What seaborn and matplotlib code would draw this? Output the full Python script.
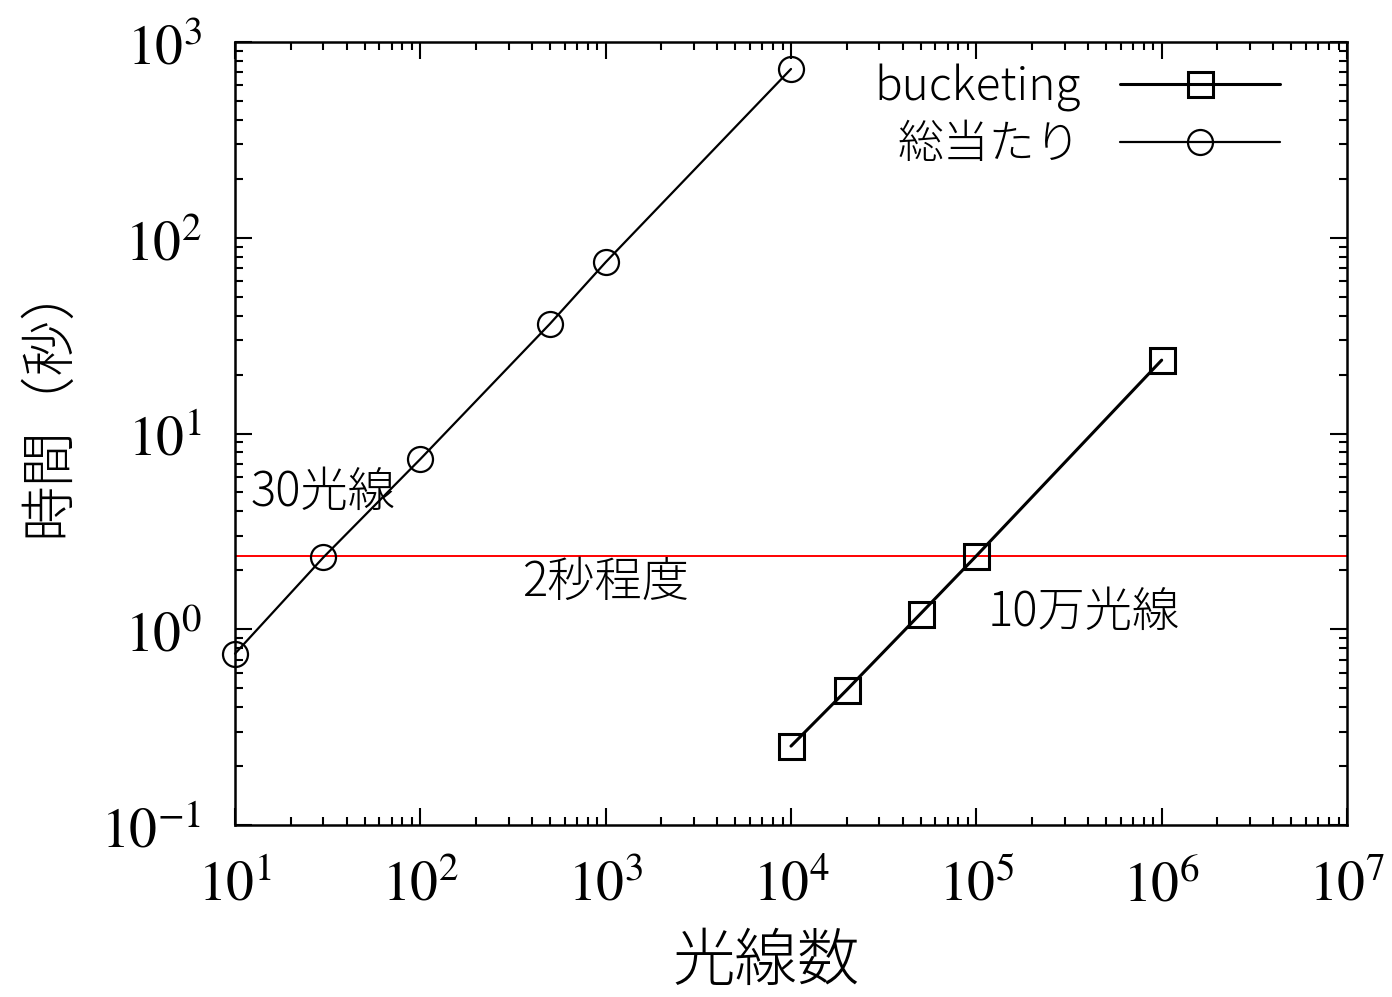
import math
import matplotlib
matplotlib.use("Agg")
import matplotlib.pyplot as plt
import matplotlib.ticker as mticker
import seaborn as sns
import pandas as pd

# Timing results (seconds) versus number of rays
brute_rays = [10, 30, 100, 500, 1000, 10000]
brute_time = [0.75, 2.33, 7.4, 36.3, 75.0, 728.0]

bucket_rays = [10000, 20000, 50000, 100000, 1000000]
bucket_time = [0.253, 0.49, 1.2, 2.37, 23.7]

threshold_time = 2.37

series_names = ["bucketing", "総当たり"]
x_label = "光線数"
y_label = "時間（秒）"
notes = ["30光線", "2秒程度", "10万光線"]

sns.set_theme(style="ticks")
plt.rcParams["font.family"] = ["Noto Sans CJK JP", "DejaVu Sans"]
plt.rcParams["mathtext.fontset"] = "stix"
plt.rcParams["text.color"] = "black"
plt.rcParams["axes.labelcolor"] = "black"
plt.rcParams["xtick.color"] = "black"
plt.rcParams["ytick.color"] = "black"

fig = plt.figure(figsize=(13.92, 9.97), dpi=100)
ax = fig.add_axes([235 / 1392, 1 - 825 / 997, 1112 / 1392, 783 / 997])

df_b = pd.DataFrame({"rays": bucket_rays, "time": bucket_time})
df_a = pd.DataFrame({"rays": brute_rays, "time": brute_time})

sns.lineplot(data=df_b, x="rays", y="time", ax=ax, color="black", lw=2.2,
             marker="s", markersize=18, markerfacecolor="none",
             markeredgecolor="black", markeredgewidth=2.2,
             label=series_names[0], clip_on=False)
sns.lineplot(data=df_a, x="rays", y="time", ax=ax, color="black", lw=1.6,
             marker="o", markersize=18, markerfacecolor="none",
             markeredgecolor="black", markeredgewidth=1.6,
             label=series_names[1], clip_on=False)

ax.axhline(threshold_time, color="red", lw=1.4, zorder=1)

ax.set_xscale("log")
ax.set_yscale("log")
ax.set_xlim(10, 1e7)
ax.set_ylim(0.1, 1000)


def pow_label(v, pos):
    e = int(round(math.log10(v)))
    return r"$\mathrm{10^{%d}}$" % e


ax.xaxis.set_major_locator(mticker.LogLocator(base=10, numticks=20))
ax.yaxis.set_major_locator(mticker.LogLocator(base=10, numticks=20))
ax.xaxis.set_minor_locator(mticker.LogLocator(base=10, subs=range(2, 10), numticks=100))
ax.yaxis.set_minor_locator(mticker.LogLocator(base=10, subs=range(2, 10), numticks=100))
ax.xaxis.set_major_formatter(mticker.FuncFormatter(pow_label))
ax.yaxis.set_major_formatter(mticker.FuncFormatter(pow_label))
ax.xaxis.set_minor_formatter(mticker.NullFormatter())
ax.yaxis.set_minor_formatter(mticker.NullFormatter())

ax.tick_params(which="both", direction="in", top=True, right=True,
               colors="black", width=1.5)
ax.tick_params(which="major", length=12, labelsize=40)
ax.tick_params(which="minor", length=6)
ax.tick_params(axis="x", which="major", pad=22)
ax.tick_params(axis="y", which="major", pad=24)

for s in ax.spines.values():
    s.set_linewidth(1.8)
    s.set_color("black")

ax.set_xlabel(x_label, fontsize=45, fontweight=300)
ax.xaxis.set_label_coords(0.478, -0.135)
ax.set_ylabel(y_label, fontsize=40, fontweight=300)
ax.yaxis.set_label_coords(-0.142, 0.545)

note_kw = dict(fontsize=34, ha="center", va="center", fontweight=300)
ax.text(30, 5.0, notes[0], **note_kw)
ax.text(1000, 1.74, notes[1], **note_kw)
ax.text(3.8e5, 1.22, notes[2], **note_kw)

leg = ax.legend(loc="upper right", bbox_to_anchor=(0.94, 0.972),
                frameon=False, markerfirst=False, fontsize=33,
                handlelength=3.5, handletextpad=0.85, labelspacing=0.2,
                borderpad=0, borderaxespad=0)
for t in leg.get_texts():
    t.set_fontweight(300)

fig.savefig("out.png", dpi=100)
